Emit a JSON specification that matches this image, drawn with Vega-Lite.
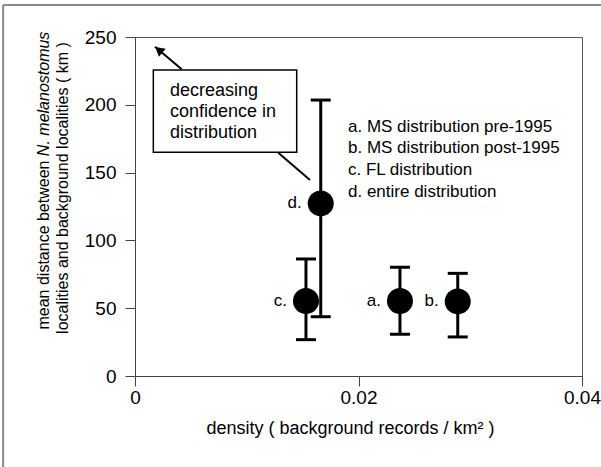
{
  "$schema": "https://vega.github.io/schema/vega-lite/v6.json",
  "width": 447,
  "height": 339,
  "autosize": "none",
  "padding": {"left": 135, "top": 37, "right": 19, "bottom": 91},
  "background": "white",
  "datasets": {
    "pts": [
      {"lab": "a.", "x": 0.02371, "y": 55.3, "lo": 30.7, "hi": 80.2},
      {"lab": "b.", "x": 0.02888, "y": 55.0, "lo": 28.8, "hi": 75.7},
      {"lab": "c.", "x": 0.01530, "y": 55.3, "lo": 26.8, "hi": 86.3},
      {"lab": "d.", "x": 0.01662, "y": 127.3, "lo": 43.7, "hi": 203.5}
    ],
    "legend": [
      {"t": "a. MS distribution pre-1995", "x": 0.01906, "y": 183.4},
      {"t": "b. MS distribution post-1995", "x": 0.01906, "y": 168.4},
      {"t": "c. FL distribution", "x": 0.01906, "y": 151.9},
      {"t": "d. entire distribution", "x": 0.01906, "y": 135.5}
    ],
    "boxtext": [
      {"t": "decreasing", "x": 0.00313, "y": 210.4},
      {"t": "confidence in", "x": 0.00313, "y": 195.0},
      {"t": "distribution", "x": 0.00313, "y": 179.0}
    ],
    "box": [{"x": 0.00164, "x2": 0.01447, "y": 165.0, "y2": 225.7}],
    "lines": [
      {"x": 0.00418, "y": 226.2, "x2": 0.00179, "y2": 242.8},
      {"x": 0.01282, "y": 164.7, "x2": 0.01566, "y2": 144.5}
    ],
    "head": [{"x": 0.00213, "y": 240.5}],
    "frame": [
      {"x": -0.0118, "y": -130, "x2": -0.0118, "y2": 273.6},
      {"x": -0.0118, "y": 273.6, "x2": 0.06, "y2": 273.6}
    ],
    "ytitle1": [{"t": "mean distance between", "x": -0.0081, "y": 158.9}],
    "ytitle2": [{"t": "N. melanostomus", "x": -0.0081, "y": 158.9}],
    "ytitle3": [{"t": "localities and background localities ( km )", "x": -0.0064, "y": 138.6}]
  },
  "layer": [
    {
      "data": {"name": "frame"},
      "mark": {"type": "rule", "color": "#888", "strokeWidth": 2},
      "encoding": {
        "x": {"field": "x", "type": "quantitative", "scale": {"domain": [0, 0.04], "nice": false, "zero": false},
              "axis": {"values": [0, 0.02, 0.04], "format": "~g", "title": "density ( background records / km² )",
                       "titleFontSize": 18, "titleFontWeight": "normal", "titlePadding": 12, "titleX": 215,
                       "labelPadding": 2, "labelFlush": false}},
        "y": {"field": "y", "type": "quantitative", "scale": {"domain": [0, 250], "nice": false, "zero": false},
              "axis": {"values": [0, 50, 100, 150, 200, 250], "title": null, "labelPadding": 9}},
        "x2": {"field": "x2"},
        "y2": {"field": "y2"}
      }
    },
    {
      "data": {"name": "pts"},
      "mark": {"type": "rule", "color": "black", "strokeWidth": 3},
      "encoding": {
        "x": {"field": "x", "type": "quantitative"},
        "y": {"field": "lo", "type": "quantitative"},
        "y2": {"field": "hi"}
      }
    },
    {
      "data": {"name": "pts"},
      "mark": {"type": "tick", "orient": "horizontal", "color": "black", "size": 20, "thickness": 3, "opacity": 1},
      "encoding": {
        "x": {"field": "x", "type": "quantitative"},
        "y": {"field": "lo", "type": "quantitative"}
      }
    },
    {
      "data": {"name": "pts"},
      "mark": {"type": "tick", "orient": "horizontal", "color": "black", "size": 20, "thickness": 3, "opacity": 1},
      "encoding": {
        "x": {"field": "x", "type": "quantitative"},
        "y": {"field": "hi", "type": "quantitative"}
      }
    },
    {
      "data": {"name": "pts"},
      "mark": {"type": "point", "shape": "circle", "filled": true, "color": "black", "size": 676, "opacity": 1},
      "encoding": {
        "x": {"field": "x", "type": "quantitative"},
        "y": {"field": "y", "type": "quantitative"}
      }
    },
    {
      "data": {"name": "pts"},
      "mark": {"type": "text", "align": "right", "baseline": "middle", "dx": -19, "fontSize": 17, "color": "black"},
      "encoding": {
        "x": {"field": "x", "type": "quantitative"},
        "y": {"field": "y", "type": "quantitative"},
        "text": {"field": "lab"}
      }
    },
    {
      "data": {"name": "box"},
      "mark": {"type": "rect", "fill": "white", "stroke": "black", "strokeWidth": 1.5},
      "encoding": {
        "x": {"field": "x", "type": "quantitative"},
        "x2": {"field": "x2"},
        "y": {"field": "y", "type": "quantitative"},
        "y2": {"field": "y2"}
      }
    },
    {
      "data": {"name": "boxtext"},
      "mark": {"type": "text", "align": "left", "baseline": "middle", "fontSize": 18, "color": "black"},
      "encoding": {
        "x": {"field": "x", "type": "quantitative"},
        "y": {"field": "y", "type": "quantitative"},
        "text": {"field": "t"}
      }
    },
    {
      "data": {"name": "lines"},
      "mark": {"type": "rule", "color": "black", "strokeWidth": 2},
      "encoding": {
        "x": {"field": "x", "type": "quantitative"},
        "y": {"field": "y", "type": "quantitative"},
        "x2": {"field": "x2"},
        "y2": {"field": "y2"}
      }
    },
    {
      "data": {"name": "head"},
      "mark": {"type": "point", "shape": "triangle-up", "filled": true, "color": "black", "size": 110, "angle": 310, "opacity": 1},
      "encoding": {
        "x": {"field": "x", "type": "quantitative"},
        "y": {"field": "y", "type": "quantitative"}
      }
    },
    {
      "data": {"name": "legend"},
      "mark": {"type": "text", "align": "left", "baseline": "middle", "fontSize": 17, "color": "black"},
      "encoding": {
        "x": {"field": "x", "type": "quantitative"},
        "y": {"field": "y", "type": "quantitative"},
        "text": {"field": "t"}
      }
    },
    {
      "data": {"name": "ytitle1"},
      "mark": {"type": "text", "align": "right", "baseline": "middle", "angle": 270, "fontSize": 16, "color": "black"},
      "encoding": {
        "x": {"field": "x", "type": "quantitative"},
        "y": {"field": "y", "type": "quantitative"},
        "text": {"field": "t"}
      }
    },
    {
      "data": {"name": "ytitle2"},
      "mark": {"type": "text", "align": "left", "baseline": "middle", "angle": 270, "dx": 4.4, "fontSize": 16, "fontStyle": "italic", "color": "black"},
      "encoding": {
        "x": {"field": "x", "type": "quantitative"},
        "y": {"field": "y", "type": "quantitative"},
        "text": {"field": "t"}
      }
    },
    {
      "data": {"name": "ytitle3"},
      "mark": {"type": "text", "align": "center", "baseline": "middle", "angle": 270, "fontSize": 16, "color": "black"},
      "encoding": {
        "x": {"field": "x", "type": "quantitative"},
        "y": {"field": "y", "type": "quantitative"},
        "text": {"field": "t"}
      }
    }
  ],
  "config": {
    "font": "Liberation Sans",
    "view": {"stroke": "#555", "strokeWidth": 1},
    "axis": {
      "grid": false,
      "domainColor": "#444",
      "tickColor": "#444",
      "labelColor": "black",
      "titleColor": "black",
      "labelFontSize": 19,
      "tickSize": 10,
      "labelFont": "Liberation Sans",
      "titleFont": "Liberation Sans"
    }
  }
}
